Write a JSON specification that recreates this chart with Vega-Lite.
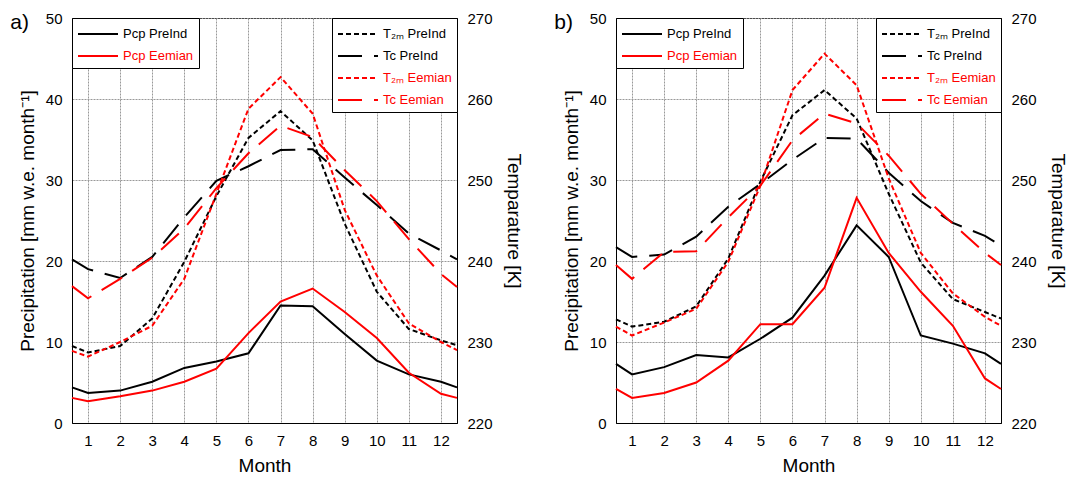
{
"$schema": "https://vega.github.io/schema/vega-lite/v6.json",
"background": "white",
"padding": {"left": 9, "top": 10, "right": 2, "bottom": 2},
"spacing": 30,
"datasets": {
"d": [
{"panel":"a","kind":"pcp","series":"Pcp PreInd","month":0.5,"value":4.4},
{"panel":"a","kind":"pcp","series":"Pcp PreInd","month":1,"value":3.7},
{"panel":"a","kind":"pcp","series":"Pcp PreInd","month":2,"value":4.0},
{"panel":"a","kind":"pcp","series":"Pcp PreInd","month":3,"value":5.1},
{"panel":"a","kind":"pcp","series":"Pcp PreInd","month":4,"value":6.8},
{"panel":"a","kind":"pcp","series":"Pcp PreInd","month":5,"value":7.6},
{"panel":"a","kind":"pcp","series":"Pcp PreInd","month":6,"value":8.6},
{"panel":"a","kind":"pcp","series":"Pcp PreInd","month":7,"value":14.5},
{"panel":"a","kind":"pcp","series":"Pcp PreInd","month":8,"value":14.4},
{"panel":"a","kind":"pcp","series":"Pcp PreInd","month":9,"value":11.0},
{"panel":"a","kind":"pcp","series":"Pcp PreInd","month":10,"value":7.7},
{"panel":"a","kind":"pcp","series":"Pcp PreInd","month":11,"value":6.0},
{"panel":"a","kind":"pcp","series":"Pcp PreInd","month":12,"value":5.1},
{"panel":"a","kind":"pcp","series":"Pcp PreInd","month":12.5,"value":4.4},
{"panel":"a","kind":"pcp","series":"Pcp Eemian","month":0.5,"value":3.1},
{"panel":"a","kind":"pcp","series":"Pcp Eemian","month":1,"value":2.7},
{"panel":"a","kind":"pcp","series":"Pcp Eemian","month":2,"value":3.3},
{"panel":"a","kind":"pcp","series":"Pcp Eemian","month":3,"value":4.0},
{"panel":"a","kind":"pcp","series":"Pcp Eemian","month":4,"value":5.1},
{"panel":"a","kind":"pcp","series":"Pcp Eemian","month":5,"value":6.7},
{"panel":"a","kind":"pcp","series":"Pcp Eemian","month":6,"value":11.1},
{"panel":"a","kind":"pcp","series":"Pcp Eemian","month":7,"value":15.0},
{"panel":"a","kind":"pcp","series":"Pcp Eemian","month":8,"value":16.6},
{"panel":"a","kind":"pcp","series":"Pcp Eemian","month":9,"value":13.7},
{"panel":"a","kind":"pcp","series":"Pcp Eemian","month":10,"value":10.5},
{"panel":"a","kind":"pcp","series":"Pcp Eemian","month":11,"value":6.2},
{"panel":"a","kind":"pcp","series":"Pcp Eemian","month":12,"value":3.6},
{"panel":"a","kind":"pcp","series":"Pcp Eemian","month":12.5,"value":3.1},
{"panel":"a","kind":"temp","series":"T₂ₘ PreInd","month":0.5,"value":229.5},
{"panel":"a","kind":"temp","series":"T₂ₘ PreInd","month":1,"value":228.7},
{"panel":"a","kind":"temp","series":"T₂ₘ PreInd","month":2,"value":229.5},
{"panel":"a","kind":"temp","series":"T₂ₘ PreInd","month":3,"value":232.9},
{"panel":"a","kind":"temp","series":"T₂ₘ PreInd","month":4,"value":239.9},
{"panel":"a","kind":"temp","series":"T₂ₘ PreInd","month":5,"value":248.0},
{"panel":"a","kind":"temp","series":"T₂ₘ PreInd","month":6,"value":255.2},
{"panel":"a","kind":"temp","series":"T₂ₘ PreInd","month":7,"value":258.5},
{"panel":"a","kind":"temp","series":"T₂ₘ PreInd","month":8,"value":254.9},
{"panel":"a","kind":"temp","series":"T₂ₘ PreInd","month":9,"value":244.6},
{"panel":"a","kind":"temp","series":"T₂ₘ PreInd","month":10,"value":236.2},
{"panel":"a","kind":"temp","series":"T₂ₘ PreInd","month":11,"value":231.6},
{"panel":"a","kind":"temp","series":"T₂ₘ PreInd","month":12,"value":230.2},
{"panel":"a","kind":"temp","series":"T₂ₘ PreInd","month":12.5,"value":229.6},
{"panel":"a","kind":"temp","series":"Tc PreInd","month":0.5,"value":240.2},
{"panel":"a","kind":"temp","series":"Tc PreInd","month":1,"value":239.0},
{"panel":"a","kind":"temp","series":"Tc PreInd","month":2,"value":237.9},
{"panel":"a","kind":"temp","series":"Tc PreInd","month":3,"value":240.5},
{"panel":"a","kind":"temp","series":"Tc PreInd","month":4,"value":245.4},
{"panel":"a","kind":"temp","series":"Tc PreInd","month":5,"value":249.9},
{"panel":"a","kind":"temp","series":"Tc PreInd","month":6,"value":251.7},
{"panel":"a","kind":"temp","series":"Tc PreInd","month":7,"value":253.7},
{"panel":"a","kind":"temp","series":"Tc PreInd","month":8,"value":253.8},
{"panel":"a","kind":"temp","series":"Tc PreInd","month":9,"value":250.3},
{"panel":"a","kind":"temp","series":"Tc PreInd","month":10,"value":246.9},
{"panel":"a","kind":"temp","series":"Tc PreInd","month":11,"value":243.4},
{"panel":"a","kind":"temp","series":"Tc PreInd","month":12,"value":241.3},
{"panel":"a","kind":"temp","series":"Tc PreInd","month":12.5,"value":240.2},
{"panel":"a","kind":"temp","series":"T₂ₘ Eemian","month":0.5,"value":228.9},
{"panel":"a","kind":"temp","series":"T₂ₘ Eemian","month":1,"value":228.2},
{"panel":"a","kind":"temp","series":"T₂ₘ Eemian","month":2,"value":230.0},
{"panel":"a","kind":"temp","series":"T₂ₘ Eemian","month":3,"value":232.0},
{"panel":"a","kind":"temp","series":"T₂ₘ Eemian","month":4,"value":237.8},
{"panel":"a","kind":"temp","series":"T₂ₘ Eemian","month":5,"value":248.3},
{"panel":"a","kind":"temp","series":"T₂ₘ Eemian","month":6,"value":258.8},
{"panel":"a","kind":"temp","series":"T₂ₘ Eemian","month":7,"value":262.7},
{"panel":"a","kind":"temp","series":"T₂ₘ Eemian","month":8,"value":258.2},
{"panel":"a","kind":"temp","series":"T₂ₘ Eemian","month":9,"value":246.3},
{"panel":"a","kind":"temp","series":"T₂ₘ Eemian","month":10,"value":238.2},
{"panel":"a","kind":"temp","series":"T₂ₘ Eemian","month":11,"value":232.3},
{"panel":"a","kind":"temp","series":"T₂ₘ Eemian","month":12,"value":230.0},
{"panel":"a","kind":"temp","series":"T₂ₘ Eemian","month":12.5,"value":229.0},
{"panel":"a","kind":"temp","series":"Tc Eemian","month":0.5,"value":236.9},
{"panel":"a","kind":"temp","series":"Tc Eemian","month":1,"value":235.4},
{"panel":"a","kind":"temp","series":"Tc Eemian","month":2,"value":237.8},
{"panel":"a","kind":"temp","series":"Tc Eemian","month":3,"value":240.4},
{"panel":"a","kind":"temp","series":"Tc Eemian","month":4,"value":244.0},
{"panel":"a","kind":"temp","series":"Tc Eemian","month":5,"value":249.0},
{"panel":"a","kind":"temp","series":"Tc Eemian","month":6,"value":253.3},
{"panel":"a","kind":"temp","series":"Tc Eemian","month":7,"value":256.7},
{"panel":"a","kind":"temp","series":"Tc Eemian","month":8,"value":255.3},
{"panel":"a","kind":"temp","series":"Tc Eemian","month":9,"value":251.2},
{"panel":"a","kind":"temp","series":"Tc Eemian","month":10,"value":247.4},
{"panel":"a","kind":"temp","series":"Tc Eemian","month":11,"value":242.7},
{"panel":"a","kind":"temp","series":"Tc Eemian","month":12,"value":238.4},
{"panel":"a","kind":"temp","series":"Tc Eemian","month":12.5,"value":236.8},
{"panel":"b","kind":"pcp","series":"Pcp PreInd","month":0.5,"value":7.3},
{"panel":"b","kind":"pcp","series":"Pcp PreInd","month":1,"value":6.0},
{"panel":"b","kind":"pcp","series":"Pcp PreInd","month":2,"value":6.9},
{"panel":"b","kind":"pcp","series":"Pcp PreInd","month":3,"value":8.4},
{"panel":"b","kind":"pcp","series":"Pcp PreInd","month":4,"value":8.1},
{"panel":"b","kind":"pcp","series":"Pcp PreInd","month":5,"value":10.4},
{"panel":"b","kind":"pcp","series":"Pcp PreInd","month":6,"value":13.0},
{"panel":"b","kind":"pcp","series":"Pcp PreInd","month":7,"value":18.2},
{"panel":"b","kind":"pcp","series":"Pcp PreInd","month":8,"value":24.4},
{"panel":"b","kind":"pcp","series":"Pcp PreInd","month":9,"value":20.5},
{"panel":"b","kind":"pcp","series":"Pcp PreInd","month":10,"value":10.8},
{"panel":"b","kind":"pcp","series":"Pcp PreInd","month":11,"value":9.8},
{"panel":"b","kind":"pcp","series":"Pcp PreInd","month":12,"value":8.6},
{"panel":"b","kind":"pcp","series":"Pcp PreInd","month":12.5,"value":7.3},
{"panel":"b","kind":"pcp","series":"Pcp Eemian","month":0.5,"value":4.2},
{"panel":"b","kind":"pcp","series":"Pcp Eemian","month":1,"value":3.1},
{"panel":"b","kind":"pcp","series":"Pcp Eemian","month":2,"value":3.7},
{"panel":"b","kind":"pcp","series":"Pcp Eemian","month":3,"value":5.0},
{"panel":"b","kind":"pcp","series":"Pcp Eemian","month":4,"value":7.7},
{"panel":"b","kind":"pcp","series":"Pcp Eemian","month":5,"value":12.2},
{"panel":"b","kind":"pcp","series":"Pcp Eemian","month":6,"value":12.2},
{"panel":"b","kind":"pcp","series":"Pcp Eemian","month":7,"value":16.7},
{"panel":"b","kind":"pcp","series":"Pcp Eemian","month":8,"value":27.8},
{"panel":"b","kind":"pcp","series":"Pcp Eemian","month":9,"value":21.0},
{"panel":"b","kind":"pcp","series":"Pcp Eemian","month":10,"value":16.2},
{"panel":"b","kind":"pcp","series":"Pcp Eemian","month":11,"value":12.0},
{"panel":"b","kind":"pcp","series":"Pcp Eemian","month":12,"value":5.5},
{"panel":"b","kind":"pcp","series":"Pcp Eemian","month":12.5,"value":4.2},
{"panel":"b","kind":"temp","series":"T₂ₘ PreInd","month":0.5,"value":232.8},
{"panel":"b","kind":"temp","series":"T₂ₘ PreInd","month":1,"value":231.9},
{"panel":"b","kind":"temp","series":"T₂ₘ PreInd","month":2,"value":232.5},
{"panel":"b","kind":"temp","series":"T₂ₘ PreInd","month":3,"value":234.4},
{"panel":"b","kind":"temp","series":"T₂ₘ PreInd","month":4,"value":240.3},
{"panel":"b","kind":"temp","series":"T₂ₘ PreInd","month":5,"value":249.8},
{"panel":"b","kind":"temp","series":"T₂ₘ PreInd","month":6,"value":258.0},
{"panel":"b","kind":"temp","series":"T₂ₘ PreInd","month":7,"value":261.1},
{"panel":"b","kind":"temp","series":"T₂ₘ PreInd","month":8,"value":257.6},
{"panel":"b","kind":"temp","series":"T₂ₘ PreInd","month":9,"value":248.3},
{"panel":"b","kind":"temp","series":"T₂ₘ PreInd","month":10,"value":239.8},
{"panel":"b","kind":"temp","series":"T₂ₘ PreInd","month":11,"value":235.3},
{"panel":"b","kind":"temp","series":"T₂ₘ PreInd","month":12,"value":233.7},
{"panel":"b","kind":"temp","series":"T₂ₘ PreInd","month":12.5,"value":232.9},
{"panel":"b","kind":"temp","series":"Tc PreInd","month":0.5,"value":241.7},
{"panel":"b","kind":"temp","series":"Tc PreInd","month":1,"value":240.5},
{"panel":"b","kind":"temp","series":"Tc PreInd","month":2,"value":240.8},
{"panel":"b","kind":"temp","series":"Tc PreInd","month":3,"value":243.0},
{"panel":"b","kind":"temp","series":"Tc PreInd","month":4,"value":246.7},
{"panel":"b","kind":"temp","series":"Tc PreInd","month":5,"value":249.5},
{"panel":"b","kind":"temp","series":"Tc PreInd","month":6,"value":252.5},
{"panel":"b","kind":"temp","series":"Tc PreInd","month":7,"value":255.2},
{"panel":"b","kind":"temp","series":"Tc PreInd","month":8,"value":255.1},
{"panel":"b","kind":"temp","series":"Tc PreInd","month":9,"value":250.9},
{"panel":"b","kind":"temp","series":"Tc PreInd","month":10,"value":247.4},
{"panel":"b","kind":"temp","series":"Tc PreInd","month":11,"value":244.7},
{"panel":"b","kind":"temp","series":"Tc PreInd","month":12,"value":243.1},
{"panel":"b","kind":"temp","series":"Tc PreInd","month":12.5,"value":241.9},
{"panel":"b","kind":"temp","series":"T₂ₘ Eemian","month":0.5,"value":231.9},
{"panel":"b","kind":"temp","series":"T₂ₘ Eemian","month":1,"value":230.8},
{"panel":"b","kind":"temp","series":"T₂ₘ Eemian","month":2,"value":232.4},
{"panel":"b","kind":"temp","series":"T₂ₘ Eemian","month":3,"value":234.1},
{"panel":"b","kind":"temp","series":"T₂ₘ Eemian","month":4,"value":239.9},
{"panel":"b","kind":"temp","series":"T₂ₘ Eemian","month":5,"value":249.3},
{"panel":"b","kind":"temp","series":"T₂ₘ Eemian","month":6,"value":261.1},
{"panel":"b","kind":"temp","series":"T₂ₘ Eemian","month":7,"value":265.6},
{"panel":"b","kind":"temp","series":"T₂ₘ Eemian","month":8,"value":261.7},
{"panel":"b","kind":"temp","series":"T₂ₘ Eemian","month":9,"value":250.2},
{"panel":"b","kind":"temp","series":"T₂ₘ Eemian","month":10,"value":241.0},
{"panel":"b","kind":"temp","series":"T₂ₘ Eemian","month":11,"value":236.0},
{"panel":"b","kind":"temp","series":"T₂ₘ Eemian","month":12,"value":233.1},
{"panel":"b","kind":"temp","series":"T₂ₘ Eemian","month":12.5,"value":232.0},
{"panel":"b","kind":"temp","series":"Tc Eemian","month":0.5,"value":239.5},
{"panel":"b","kind":"temp","series":"Tc Eemian","month":1,"value":237.8},
{"panel":"b","kind":"temp","series":"Tc Eemian","month":2,"value":241.1},
{"panel":"b","kind":"temp","series":"Tc Eemian","month":3,"value":241.2},
{"panel":"b","kind":"temp","series":"Tc Eemian","month":4,"value":245.4},
{"panel":"b","kind":"temp","series":"Tc Eemian","month":5,"value":249.3},
{"panel":"b","kind":"temp","series":"Tc Eemian","month":6,"value":254.9},
{"panel":"b","kind":"temp","series":"Tc Eemian","month":7,"value":258.2},
{"panel":"b","kind":"temp","series":"Tc Eemian","month":8,"value":257.0},
{"panel":"b","kind":"temp","series":"Tc Eemian","month":9,"value":253.0},
{"panel":"b","kind":"temp","series":"Tc Eemian","month":10,"value":248.3},
{"panel":"b","kind":"temp","series":"Tc Eemian","month":11,"value":244.6},
{"panel":"b","kind":"temp","series":"Tc Eemian","month":12,"value":241.0},
{"panel":"b","kind":"temp","series":"Tc Eemian","month":12.5,"value":239.5}
]
},
"hconcat": [
{
"width": 385, "height": 405,
"title": {"text": "a)"},
"data": {"name": "d"},
"transform": [{"filter": "datum.panel == 'a'"}],
"layer": [
{"transform": [{"filter": "datum.kind == 'pcp'"}],
 "mark": {"type": "line", "strokeWidth": 2},
 "encoding": {
  "x": {"field": "month", "type": "quantitative", "scale": {"domain": [0.5, 12.5], "nice": false, "zero": false}, "axis": {"values": [1,2,3,4,5,6,7,8,9,10,11,12], "labelOverlap": false, "title": "Month"}},
  "y": {"field": "value", "type": "quantitative", "scale": {"domain": [0, 50], "nice": false}, "axis": {"values": [0,10,20,30,40,50], "title": "Precipitation [mm w.e. month⁻¹]"}},
  "color": {"field": "series", "type": "nominal", "scale": {"domain": ["Pcp PreInd", "Pcp Eemian"], "range": ["#000000", "#ff0000"]}, "legend": {"orient": "top-left", "title": null, "encode": {"labels": {"update": {"fill": {"signal": "indexof(datum.label, 'Eemian') >= 0 ? '#ff0000' : '#000000'"}}}}}}
 }},
{"transform": [{"filter": "datum.kind == 'temp'"}],
 "mark": {"type": "line", "strokeWidth": 2},
 "encoding": {
  "x": {"field": "month", "type": "quantitative", "scale": {"domain": [0.5, 12.5], "nice": false, "zero": false}, "axis": {"values": [1,2,3,4,5,6,7,8,9,10,11,12], "labelOverlap": false, "title": "Month"}},
  "y": {"field": "value", "type": "quantitative", "scale": {"domain": [220, 270], "nice": false, "zero": false}, "axis": {"orient": "right", "values": [220,230,240,250,260,270], "grid": false, "titlePadding": 11, "title": "Temparature [K]"}},
  "color": {"field": "series", "type": "nominal", "scale": {"domain": ["T₂ₘ PreInd", "Tc PreInd", "T₂ₘ Eemian", "Tc Eemian"], "range": ["#000000", "#000000", "#ff0000", "#ff0000"]}, "legend": {"orient": "top-right", "title": null, "encode": {"labels": {"update": {"fill": {"signal": "indexof(datum.label, 'Eemian') >= 0 ? '#ff0000' : '#000000'"}}}}}},
  "strokeDash": {"field": "series", "type": "nominal", "scale": {"domain": ["T₂ₘ PreInd", "Tc PreInd", "T₂ₘ Eemian", "Tc Eemian"], "range": [[5,3],[24,12],[5,3],[24,12]]}, "legend": {"orient": "top-right", "title": null, "encode": {"labels": {"update": {"fill": {"signal": "indexof(datum.label, 'Eemian') >= 0 ? '#ff0000' : '#000000'"}}}}}}
 }}
],
"resolve": {"scale": {"y": "independent", "color": "independent", "strokeDash": "independent"}, "legend": {"color": "independent", "strokeDash": "independent"}}
},
{
"width": 385, "height": 405,
"title": {"text": "b)"},
"data": {"name": "d"},
"transform": [{"filter": "datum.panel == 'b'"}],
"layer": [
{"transform": [{"filter": "datum.kind == 'pcp'"}],
 "mark": {"type": "line", "strokeWidth": 2},
 "encoding": {
  "x": {"field": "month", "type": "quantitative", "scale": {"domain": [0.5, 12.5], "nice": false, "zero": false}, "axis": {"values": [1,2,3,4,5,6,7,8,9,10,11,12], "labelOverlap": false, "title": "Month"}},
  "y": {"field": "value", "type": "quantitative", "scale": {"domain": [0, 50], "nice": false}, "axis": {"values": [0,10,20,30,40,50], "title": "Precipitation [mm w.e. month⁻¹]"}},
  "color": {"field": "series", "type": "nominal", "scale": {"domain": ["Pcp PreInd", "Pcp Eemian"], "range": ["#000000", "#ff0000"]}, "legend": {"orient": "top-left", "title": null, "encode": {"labels": {"update": {"fill": {"signal": "indexof(datum.label, 'Eemian') >= 0 ? '#ff0000' : '#000000'"}}}}}}
 }},
{"transform": [{"filter": "datum.kind == 'temp'"}],
 "mark": {"type": "line", "strokeWidth": 2},
 "encoding": {
  "x": {"field": "month", "type": "quantitative", "scale": {"domain": [0.5, 12.5], "nice": false, "zero": false}, "axis": {"values": [1,2,3,4,5,6,7,8,9,10,11,12], "labelOverlap": false, "title": "Month"}},
  "y": {"field": "value", "type": "quantitative", "scale": {"domain": [220, 270], "nice": false, "zero": false}, "axis": {"orient": "right", "values": [220,230,240,250,260,270], "grid": false, "titlePadding": 11, "title": "Temparature [K]"}},
  "color": {"field": "series", "type": "nominal", "scale": {"domain": ["T₂ₘ PreInd", "Tc PreInd", "T₂ₘ Eemian", "Tc Eemian"], "range": ["#000000", "#000000", "#ff0000", "#ff0000"]}, "legend": {"orient": "top-right", "title": null, "encode": {"labels": {"update": {"fill": {"signal": "indexof(datum.label, 'Eemian') >= 0 ? '#ff0000' : '#000000'"}}}}}},
  "strokeDash": {"field": "series", "type": "nominal", "scale": {"domain": ["T₂ₘ PreInd", "Tc PreInd", "T₂ₘ Eemian", "Tc Eemian"], "range": [[5,3],[24,12],[5,3],[24,12]]}, "legend": {"orient": "top-right", "title": null, "encode": {"labels": {"update": {"fill": {"signal": "indexof(datum.label, 'Eemian') >= 0 ? '#ff0000' : '#000000'"}}}}}}
 }}
],
"resolve": {"scale": {"y": "independent", "color": "independent", "strokeDash": "independent"}, "legend": {"color": "independent", "strokeDash": "independent"}}
}
],
"config": {
 "font": "Liberation Sans",
 "view": {"stroke": "#000000", "strokeWidth": 1},
 "title": {"anchor": "start", "frame": "bounds", "fontSize": 21, "fontWeight": "normal", "color": "#000000", "offset": -22, "dx": -8},
 "axis": {"labelFontSize": 15, "labelColor": "#000000", "titleFontSize": 19, "titleFontWeight": "normal", "titleColor": "#000000", "domainColor": "#000000", "ticks": false, "labelPadding": 10, "titlePadding": 8, "gridColor": "#999999", "gridDash": [2, 1], "gridWidth": 1, "gridOpacity": 1},
 "legend": {"offset": 0, "padding": 5, "strokeColor": "#000000", "fillColor": "#ffffff", "cornerRadius": 0, "labelFontSize": 13, "labelOffset": 24, "symbolType": "M-1,0H3", "symbolSize": 400, "symbolStrokeWidth": 2, "rowPadding": 4, "labelLimit": 200}
}
}
